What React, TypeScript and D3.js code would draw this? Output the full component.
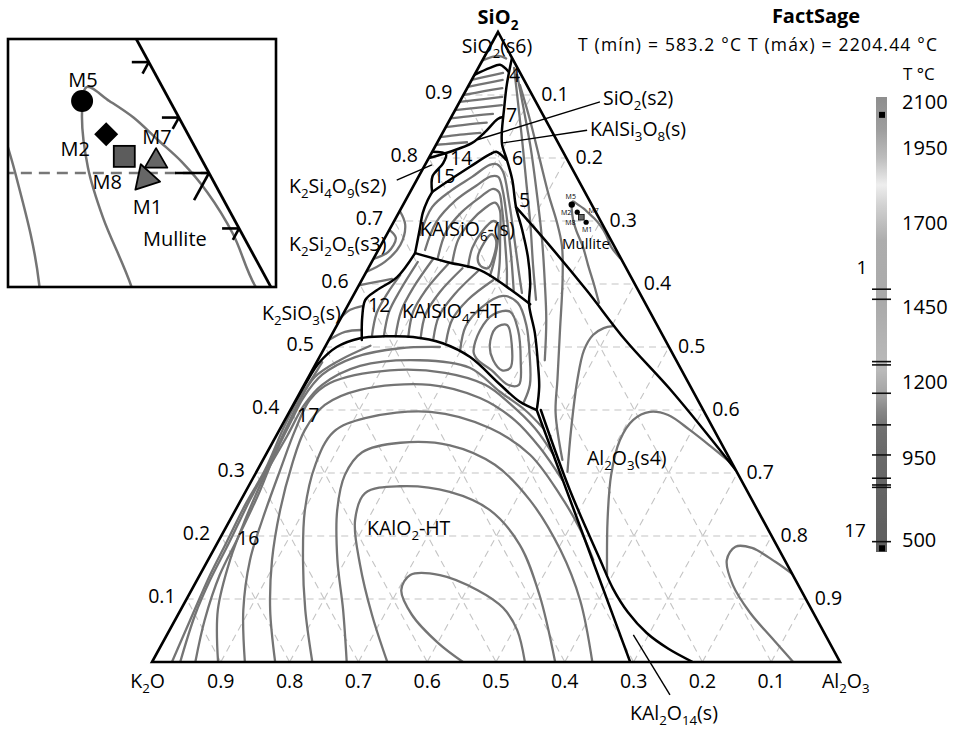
import React from "react";
import * as d3 from "d3";

// Composition point: [SiO2, Al2O3] mass fraction (K2O = 1 - SiO2 - Al2O3)
type TP = [number, number];

const FONT = "'Open Sans', 'Noto Sans', 'DejaVu Sans', sans-serif";

// ---------- axis ticks ----------
const fractionTicks = [0.1, 0.2, 0.3, 0.4, 0.5, 0.6, 0.7, 0.8, 0.9];

// ---------- phase field boundaries ----------
const bSilicaLiquidus: TP[] = [[0.959, 0.041], [0.916, 0.055], [0.876, 0.071], [0.84, 0.086], [0.821, 0.096], [0.797, 0.115], [0.765, 0.139], [0.722, 0.166], [0.686, 0.193], [0.643, 0.223], [0.602, 0.247], [0.567, 0.263], [0.522, 0.294], [0.468, 0.326], [0.437, 0.343], [0.403, 0.357]];
const bSilicaCap: TP[] = [[0.932, 0], [0.943, 0.017], [0.948, 0.029], [0.937, 0.047]];
const bSilicaLower: TP[] = [[0.865, 0.075], [0.862, 0.069], [0.841, 0.061], [0.824, 0.051], [0.81, 0.026], [0.8, 0]];
const bLeuciteTop: TP[] = [[0.746, 0.032], [0.765, 0.048], [0.786, 0.067], [0.806, 0.086], [0.81, 0.093], [0.797, 0.114]];
const bK2Si4O9: TP[] = [[0.81, 0], [0.806, 0.022], [0.792, 0.025], [0.771, 0.02], [0.746, 0.032]];
const bLeuciteLeft: TP[] = [[0.746, 0.032], [0.733, 0.032], [0.713, 0.035], [0.686, 0.044], [0.649, 0.056]];
const bLeuciteKalsilite: TP[] = [[0.649, 0.056], [0.635, 0.109], [0.622, 0.164], [0.595, 0.217], [0.568, 0.264]];
const bKalsiliteLeft: TP[] = [[0.649, 0.056], [0.611, 0.049], [0.59, 0.03], [0.575, 0.021], [0.548, 0.03], [0.511, 0.048]];
const bKAlO2Top: TP[] = [[0.4, 0], [0.44, 0.001], [0.475, 0.004], [0.5, 0.017], [0.514, 0.044], [0.517, 0.078], [0.516, 0.12], [0.506, 0.168], [0.484, 0.219], [0.44, 0.285], [0.413, 0.327], [0.4, 0.358]];
const bMullite: TP[] = [[0.722, 0.166], [0.67, 0.234], [0.59, 0.335], [0.511, 0.431], [0.427, 0.543], [0.305, 0.695]];
const bAluminaLeft: TP[] = [[0.4, 0.358], [0.202, 0.525], [0, 0.695]];
const bAluminaRight: TP[] = [[0.4, 0.364], [0.273, 0.47], [0.162, 0.57], [0.117, 0.611], [0.079, 0.652], [0.046, 0.696], [0.021, 0.74], [0, 0.786]];

const boundaries: TP[][] = [bSilicaLiquidus, bSilicaCap, bSilicaLower, bLeuciteTop, bK2Si4O9, bLeuciteLeft, bLeuciteKalsilite, bKalsiliteLeft, bKAlO2Top, bMullite, bAluminaLeft, bAluminaRight];

// ---------- liquidus isotherms ----------
const isoSilica: TP[][] = [
  [[0.955, 0], [0.962, 0.02], [0.958, 0.033]],
  [[0.924, 0], [0.93, 0.021], [0.935, 0.04]],
  [[0.913, 0], [0.919, 0.024], [0.924, 0.045]],
  [[0.9, 0], [0.906, 0.027], [0.911, 0.051]],
  [[0.889, 0], [0.893, 0.03], [0.897, 0.058]],
  [[0.876, 0], [0.88, 0.032], [0.884, 0.064]],
  [[0.863, 0], [0.867, 0.03], [0.87, 0.058]],
  [[0.849, 0], [0.853, 0.028], [0.856, 0.056]],
  [[0.833, 0], [0.837, 0.027], [0.84, 0.055]],
  [[0.821, 0], [0.823, 0.022], [0.825, 0.043]],
];
const isoMulliteSide: TP[][] = [
  [[0.943, 0.052], [0.892, 0.083], [0.829, 0.121], [0.765, 0.159], [0.694, 0.201], [0.63, 0.237], [0.575, 0.269]],
  [[0.932, 0.062], [0.876, 0.1], [0.813, 0.142], [0.741, 0.187], [0.67, 0.23], [0.606, 0.266], [0.543, 0.3], [0.479, 0.33]],
  [[0.916, 0.074], [0.86, 0.117], [0.797, 0.163], [0.741, 0.204], [0.7, 0.236], [0.66, 0.264], [0.606, 0.292], [0.527, 0.328], [0.448, 0.364], [0.395, 0.388], [0.321, 0.435]],
  [[0.57, 0.363], [0.598, 0.342], [0.63, 0.317], [0.659, 0.295], [0.684, 0.273], [0.702, 0.259], [0.722, 0.247], [0.731, 0.244], [0.726, 0.254], [0.72, 0.265], [0.712, 0.277], [0.704, 0.289], [0.693, 0.303], [0.678, 0.319], [0.659, 0.336], [0.641, 0.358]],
];
const isoLeucite: TP[][] = [
  [[0.678, 0.049], [0.722, 0.044], [0.749, 0.059], [0.77, 0.078], [0.789, 0.094], [0.79, 0.104], [0.778, 0.119], [0.733, 0.15], [0.678, 0.185], [0.622, 0.22], [0.586, 0.243]],
  [[0.654, 0.068], [0.698, 0.062], [0.733, 0.073], [0.756, 0.091], [0.771, 0.105], [0.77, 0.116], [0.749, 0.133], [0.702, 0.163], [0.646, 0.197], [0.59, 0.229]],
  [[0.641, 0.093], [0.683, 0.084], [0.714, 0.091], [0.738, 0.106], [0.751, 0.118], [0.746, 0.129], [0.721, 0.146], [0.67, 0.176], [0.622, 0.203], [0.598, 0.215]],
  [[0.633, 0.118], [0.67, 0.108], [0.698, 0.111], [0.721, 0.122], [0.729, 0.132], [0.717, 0.145], [0.678, 0.165], [0.635, 0.186], [0.606, 0.198]],
  [[0.627, 0.144], [0.657, 0.135], [0.683, 0.136], [0.7, 0.144], [0.694, 0.154], [0.662, 0.169], [0.63, 0.179], [0.613, 0.183]],
];
const isoKalsilite: TP[][] = [
  [[0.516, 0.06], [0.554, 0.048], [0.586, 0.048], [0.614, 0.052]],
  [[0.517, 0.077], [0.556, 0.065], [0.59, 0.064], [0.635, 0.067]],
  [[0.517, 0.094], [0.557, 0.082], [0.594, 0.081], [0.64, 0.087]],
  [[0.516, 0.113], [0.556, 0.1], [0.59, 0.101], [0.632, 0.113]],
  [[0.514, 0.132], [0.552, 0.12], [0.587, 0.123], [0.625, 0.137]],
  [[0.513, 0.151], [0.549, 0.141], [0.583, 0.146], [0.621, 0.162]],
  [[0.508, 0.172], [0.543, 0.163], [0.575, 0.17], [0.606, 0.191]],
  [[0.495, 0.199], [0.533, 0.188], [0.563, 0.196], [0.581, 0.218], [0.57, 0.245], [0.535, 0.275], [0.487, 0.304], [0.44, 0.328], [0.413, 0.333]],
];
const isoPotassiumSilicates: TP[][] = [
  [[0.598, 0], [0.603, 0.021], [0.608, 0.043]],
  [[0.548, 0], [0.559, 0.007], [0.565, 0.021]],
  [[0.511, 0], [0.524, 0.017], [0.527, 0.04]],
  [[0.716, 0], [0.694, 0.019], [0.662, 0.028], [0.635, 0.019], [0.619, 0]],
  [[0.686, 0], [0.673, 0.016], [0.651, 0.016], [0.64, 0]],
];
const isoKAlO2: TP[][] = [
  [[0, 0.452], [0.03, 0.401], [0.075, 0.34], [0.114, 0.305], [0.138, 0.306], [0.138, 0.349], [0.114, 0.416], [0.086, 0.467], [0.051, 0.505], [0, 0.542]],
  [[0, 0.342], [0.075, 0.282], [0.154, 0.225], [0.225, 0.182], [0.268, 0.175], [0.279, 0.22], [0.27, 0.297], [0.241, 0.37], [0.186, 0.441], [0.106, 0.51], [0, 0.586]],
  [[0, 0.283], [0.083, 0.236], [0.162, 0.188], [0.241, 0.148], [0.297, 0.131], [0.333, 0.138], [0.348, 0.186], [0.344, 0.26], [0.313, 0.341], [0.257, 0.42], [0.178, 0.504], [0.098, 0.573], [0, 0.64]],
  [[0, 0.233], [0.083, 0.181], [0.162, 0.138], [0.241, 0.101], [0.313, 0.08], [0.365, 0.08], [0.387, 0.115], [0.397, 0.205], [0.371, 0.305], [0.329, 0.384], [0.265, 0.46], [0.21, 0.517], [0.162, 0.56]],
  [[0, 0.179], [0.083, 0.13], [0.162, 0.093], [0.241, 0.065], [0.313, 0.046], [0.368, 0.037], [0.408, 0.046], [0.432, 0.085], [0.44, 0.183], [0.419, 0.266], [0.384, 0.334], [0.34, 0.393], [0.289, 0.451]],
  [[0, 0.135], [0.083, 0.091], [0.162, 0.061], [0.225, 0.047], [0.305, 0.033], [0.368, 0.023], [0.416, 0.02], [0.443, 0.036], [0.463, 0.113], [0.459, 0.195], [0.44, 0.263], [0.41, 0.314], [0.371, 0.37], [0.329, 0.418]],
  [[0, 0.096], [0.083, 0.054], [0.162, 0.032], [0.225, 0.022], [0.297, 0.015], [0.36, 0.016], [0.408, 0.016], [0.44, 0.026], [0.47, 0.066], [0.479, 0.148], [0.467, 0.227], [0.429, 0.29], [0.4, 0.341], [0.371, 0.382]],
  [[0, 0.063], [0.067, 0.043], [0.138, 0.029], [0.194, 0.026], [0.265, 0.021], [0.329, 0.013], [0.384, 0.01], [0.419, 0.009], [0.456, 0.018], [0.484, 0.052], [0.498, 0.11], [0.5, 0.167]],
  [[0, 0.041], [0.075, 0.025], [0.13, 0.019], [0.186, 0.017], [0.257, 0.013], [0.317, 0.012], [0.376, 0.008], [0.416, 0.006], [0.452, 0.009], [0.479, 0.032], [0.502, 0.065]],
  [[0, 0.029], [0.067, 0.022], [0.138, 0.015], [0.186, 0.013], [0.249, 0.01], [0.305, 0.011], [0.376, 0.004], [0.416, 0.003], [0.444, 0.006], [0.476, 0.008]],
];
const isoAlumina: TP[][] = [
  [[0.302, 0.452], [0.368, 0.424], [0.448, 0.393], [0.495, 0.379], [0.519, 0.38], [0.53, 0.39], [0.533, 0.402]],
  [[0.138, 0.592], [0.225, 0.549], [0.297, 0.518], [0.352, 0.503], [0.384, 0.506], [0.397, 0.524], [0.392, 0.553], [0.368, 0.597], [0.341, 0.642], [0.313, 0.687]],
  [[0.14, 0.86], [0.159, 0.826], [0.181, 0.781], [0.183, 0.756], [0.162, 0.754], [0.122, 0.783], [0.079, 0.829], [0.038, 0.882], [0, 0.932]],
];
const isoClosed: TP[][] = [
  [[0.641, 0.151], [0.665, 0.148], [0.679, 0.152], [0.67, 0.163], [0.644, 0.173], [0.625, 0.174], [0.629, 0.161]],
  [[0.492, 0.22], [0.527, 0.212], [0.552, 0.219], [0.556, 0.241], [0.527, 0.267], [0.479, 0.295], [0.44, 0.312], [0.44, 0.296], [0.463, 0.261], [0.479, 0.233]],
  [[0.503, 0.238], [0.53, 0.233], [0.535, 0.247], [0.503, 0.27], [0.467, 0.286], [0.463, 0.276], [0.479, 0.255]],
];
const isothermsOpen: TP[][] = [...isoSilica, ...isoMulliteSide, ...isoLeucite, ...isoKalsilite, ...isoPotassiumSilicates, ...isoKAlO2, ...isoAlumina];

// ---------- label leaders ----------
const leaders: TP[][] = [
  [[0.889, 0.204], [0.829, 0.056]],
  [[0.844, 0.208], [0.824, 0.096]],
  [[0.765, -0.029], [0.789, 0.01]],
  [[0.043, 0.678], [-0.052, 0.779]],
];

// ---------- samples ----------
const sampleNames = ["M5", "M2", "M8", "M7", "M1"];
const sampleSiO2 = [0.726, 0.714, 0.706, 0.705, 0.698];
const sampleAl2O3 = [0.245, 0.259, 0.269, 0.28, 0.28];

// ---------- inset axis ticks on the SiO2–Al2O3 edge ----------
const insetTicks = [0.74, 0.72, 0.7, 0.68];

// ---------- temperature legend ----------
const tempTicks = [2100, 1950, 1700, 1450, 1200, 950, 500];
const tempLevelMarks = [1503, 1473, 1268, 1257, 1163, 1059, 960, 839, 802, 789, 491];
const tempSquareMarks = [2058, 455];
const tempShades: [number, string][] = [
  [2115, "#8e8e8e"], [2009, "#9e9e9e"], [1917, "#bdbdbd"], [1827, "#eeeeee"], [1760, "#d2d2d2"],
  [1649, "#adadad"], [1471, "#aaaaaa"], [1240, "#bababa"], [1157, "#a2a2a2"], [1108, "#888888"],
  [1042, "#6f6f6f"], [884, "#676767"], [435, "#5e5e5e"],
];

const fmt = d3.format(".1f");

function Chem({ x, y, text, size = 19.5, anchor = "start", weight = "normal" }: { x: number; y: number; text: string; size?: number; anchor?: string; weight?: string }) {
  const parts = text.split(/(_\d+)/).filter((p) => p.length > 0);
  const sh = size * 0.28;
  return (
    <text x={x} y={y} fontSize={size} textAnchor={anchor as any} fontWeight={weight} fontFamily={FONT} fill="#000">
      {parts.map((p, i) => {
        if (p.startsWith("_")) {
          return (
            <tspan key={i} dy={sh} fontSize={size * 0.68}>
              {p.slice(1)}
            </tspan>
          );
        }
        const prevSub = i > 0 && parts[i - 1].startsWith("_");
        return (
          <tspan key={i} dy={prevSub ? -sh : 0}>
            {p}
          </tspan>
        );
      })}
    </text>
  );
}

export default function App() {
  // ternary projection
  const sY = d3.scaleLinear().domain([0, 1]).range([662, 32]);
  const alX = d3.scaleLinear().domain([0, 1]).range([152, 840]);
  const apexShift = 498 - 152;
  const proj = (p: TP): [number, number] => [alX(p[1]) + apexShift * p[0], sY(p[0])];

  // magnified inset around the samples
  const [X0, Y0] = proj([0.7, 0.3]);
  const zoomK = 4.4;
  const projInset = (p: TP): [number, number] => {
    const [x, y] = proj(p);
    return [209 + zoomK * (x - X0), 173 + zoomK * (y - Y0)];
  };

  const smooth = (pj: (p: TP) => [number, number], closed = false) =>
    d3
      .line<TP>()
      .x((d) => pj(d)[0])
      .y((d) => pj(d)[1])
      .curve(closed ? d3.curveCatmullRomClosed.alpha(0.5) : d3.curveCatmullRom.alpha(0.5));
  const straight = (pj: (p: TP) => [number, number]) =>
    d3
      .line<TP>()
      .x((d) => pj(d)[0])
      .y((d) => pj(d)[1]);

  const tri: TP[] = [[1, 0], [0, 0], [0, 1]];
  const triPts = tri.map((p) => proj(p).join(",")).join(" ");

  const gridSegs: TP[][] = fractionTicks.flatMap((v) => [
    [[v, 0], [v, 1 - v]] as TP[],
    [[0, v], [1 - v, v]] as TP[],
    [[0, 1 - v], [1 - v, 0]] as TP[],
  ]);

  const GRAY = "#747474";

  const drawField = (pj: (p: TP) => [number, number], key: string, wGray: number, wBlack: number) => (
    <g key={key}>
      {isothermsOpen.map((c, i) => (
        <path key={"o" + i} d={smooth(pj)(c) || ""} fill="none" stroke={GRAY} strokeWidth={wGray} strokeLinejoin="round" strokeLinecap="round" />
      ))}
      {isoClosed.map((c, i) => (
        <path key={"c" + i} d={smooth(pj, true)(c) || ""} fill="none" stroke={GRAY} strokeWidth={wGray} />
      ))}
      {boundaries.map((c, i) => (
        <path key={"b" + i} d={smooth(pj)(c) || ""} fill="none" stroke="#000" strokeWidth={wBlack} strokeLinejoin="round" strokeLinecap="round" />
      ))}
    </g>
  );

  // temperature legend scale (non-uniform spacing of the labelled temperatures)
  const tScale = d3
    .scaleLinear()
    .domain([435, 500, 950, 1200, 1450, 1700, 1950, 2100, 2115])
    .range([552, 540, 458, 382, 307, 223, 148, 102, 97]);
  const barTop = tScale(2115);
  const barBot = tScale(435);

  // sample markers
  const samples = sampleNames.map((n, i) => ({ name: n, p: [sampleSiO2[i], sampleAl2O3[i]] as TP }));
  const mainLabelOffset: Record<string, [number, number]> = { M5: [-1, -6], M2: [-11, 3], M7: [5, -5], M8: [-11, 8], M1: [1, 10] };
  const insetLabelOffset: Record<string, [number, number]> = { M5: [1, -14], M2: [-31, 22], M7: [1, -15], M8: [-17, 33], M1: [2, 35] };

  const triangle = (cx: number, cy: number, r: number, rot: number) => {
    const pts = [0, 120, 240].map((a) => {
      const t = ((a + rot) * Math.PI) / 180;
      return [cx + r * Math.sin(t), cy - r * Math.cos(t)].join(",");
    });
    return pts.join(" ");
  };

  // direction along a constant-Al2O3 line (towards lower SiO2), used for inset ticks
  const dA = proj([0.69, 0.3]);
  const dB = proj([0.7, 0.3]);
  const dl = Math.hypot(dA[0] - dB[0], dA[1] - dB[1]);
  const diag = [(dA[0] - dB[0]) / dl, (dA[1] - dB[1]) / dl];

  return (
    <svg width={957} height={729} style={{ position: "absolute", left: 0, top: 0, background: "#fff" }} fontFamily={FONT}>
      <defs>
        <clipPath id="triClip">
          <polygon points={triPts} />
        </clipPath>
        <clipPath id="insetClip">
          <rect x={8} y={39} width={268} height={248} />
        </clipPath>
        <linearGradient id="tempGrad" x1="0" y1="0" x2="0" y2="1">
          {tempShades.map(([t, c], i) => (
            <stop key={i} offset={(tScale(t) - barTop) / (barBot - barTop)} stopColor={c} />
          ))}
        </linearGradient>
        <filter id="soft" x="-50%" y="-5%" width="200%" height="110%">
          <feGaussianBlur stdDeviation="0.7" />
        </filter>
      </defs>
      <rect x={0} y={0} width={957} height={729} fill="#fff" />

      {/* grid */}
      <g clipPath="url(#triClip)">
        {gridSegs.map((s, i) => (
          <path key={i} d={straight(proj)(s) || ""} stroke="#c4c4c4" strokeWidth={1.1} strokeDasharray="7 5" fill="none" />
        ))}
      </g>

      {/* isotherms and phase boundaries */}
      <g clipPath="url(#triClip)">{drawField(proj, "main", 2.3, 2.5)}</g>
      <polygon points={triPts} fill="none" stroke="#000" strokeWidth={2.6} strokeLinejoin="miter" />

      {/* label leaders */}
      {leaders.map((l, i) => (
        <path key={i} d={straight(proj)(l) || ""} stroke="#000" strokeWidth={1.4} fill="none" />
      ))}

      {/* edge tick labels */}
      <g fontSize={19.5} fill="#000">
        {fractionTicks.map((v) => {
          const [x, y] = proj([v, 0]);
          return (
            <text key={"l" + v} x={x - 11} y={y + 4} textAnchor="end">
              {fmt(v)}
            </text>
          );
        })}
        {fractionTicks.map((v) => {
          const [x, y] = proj([v, 1 - v]);
          return (
            <text key={"r" + v} x={x + 9} y={y + 6}>
              {fmt(1 - v)}
            </text>
          );
        })}
        {fractionTicks.map((v) => {
          const [x] = proj([0, v]);
          return (
            <text key={"b" + v} x={x} y={688} textAnchor="middle">
              {fmt(1 - v)}
            </text>
          );
        })}
      </g>

      {/* corner labels */}
      <Chem x={498} y={24} text="SiO_2" size={20} anchor="middle" weight="bold" />
      <Chem x={497} y={53} text="SiO_2(s6)" size={19.5} anchor="middle" />
      <Chem x={165} y={688} text="K_2O" size={19.5} anchor="end" />
      <Chem x={822} y={688} text="Al_2O_3" size={19.5} />

      {/* phase field labels */}
      <Chem x={603} y={105} text="SiO_2(s2)" />
      <Chem x={590} y={136} text="KAlSi_3O_8(s)" />
      <Chem x={289} y={193} text="K_2Si_4O_9(s2)" />
      <Chem x={289} y={251} text="K_2Si_2O_5(s3)" />
      <Chem x={262} y={320} text="K_2SiO_3(s)" />
      <Chem x={420} y={236} text="KAlSiO_6-(s)" />
      <Chem x={402} y={318} text="KAlSiO_4-HT" />
      <Chem x={367} y={535} text="KAlO_2-HT" />
      <Chem x={587} y={465} text="Al_2O_3(s4)" />
      <Chem x={630} y={720} text="KAl_2O_14(s)" />
      <text x={562} y={249} fontSize={15}>Mullite</text>

      {/* region numbers */}
      <g fontSize={19.5}>
        <text x={509} y={82}>4</text>
        <text x={506} y={122}>7</text>
        <text x={512} y={165}>6</text>
        <text x={450} y={165}>14</text>
        <text x={433} y={183}>15</text>
        <text x={519} y={207}>5</text>
        <text x={368} y={312}>12</text>
        <text x={297} y={422}>17</text>
        <text x={237} y={545}>16</text>
      </g>

      {/* samples on the diagram */}
      {samples.map((s) => {
        const [x, y] = proj(s.p);
        const [ox, oy] = mainLabelOffset[s.name];
        let mark = null;
        if (s.name === "M5") mark = <circle cx={x} cy={y} r={3.2} fill="#000" />;
        else if (s.name === "M2" || s.name === "M1") mark = <circle cx={x} cy={y} r={2.6} fill="#000" />;
        else if (s.name === "M8") mark = <rect x={x - 2.8} y={y - 2.8} width={5.6} height={5.6} fill="#666" stroke="#000" strokeWidth={0.8} />;
        return (
          <g key={s.name}>
            {mark}
            <text x={x + ox} y={y + oy} fontSize={7} textAnchor="middle" fill="#000">
              {s.name}
            </text>
          </g>
        );
      })}

      {/* inset */}
      <rect x={8} y={39} width={268} height={248} fill="#fff" />
      <g clipPath="url(#insetClip)">
        <path d={straight(projInset)([[0.7, 0], [0.7, 0.3]]) || ""} stroke="#777" strokeWidth={2.4} strokeDasharray="11 7" fill="none" />
        {drawField(projInset, "inset", 2.5, 2.6)}
        <path d={straight(projInset)([[1, 0], [0, 1]]) || ""} stroke="#000" strokeWidth={2.8} fill="none" />
        {insetTicks.map((t) => {
          const [x, y] = projInset([t, 1 - t]);
          const major = Math.abs(t - 0.7) < 1e-9;
          const h = major ? 34 : 17;
          const g = major ? 31 : 13;
          return (
            <g key={t} stroke="#000" strokeWidth={2.6} fill="none">
              <line x1={x - h} y1={y} x2={x} y2={y} />
              <line x1={x} y1={y} x2={x + g * diag[0]} y2={y + g * diag[1]} />
            </g>
          );
        })}
        {samples.map((s) => {
          const [x, y] = projInset(s.p);
          const [ox, oy] = insetLabelOffset[s.name];
          let mark = null;
          if (s.name === "M5") mark = <circle cx={x} cy={y} r={11} fill="#000" />;
          else if (s.name === "M2") mark = <polygon points={`${x},${y - 12} ${x + 12},${y} ${x},${y + 12} ${x - 12},${y}`} fill="#000" />;
          else if (s.name === "M8") mark = <rect x={x - 10.5} y={y - 10.5} width={21} height={21} fill="#5c5c5c" stroke="#000" strokeWidth={1.8} />;
          else if (s.name === "M7") mark = <polygon points={triangle(x, y + 2, 13, 0)} fill="#666" stroke="#000" strokeWidth={1.8} strokeLinejoin="round" />;
          else mark = <polygon points={triangle(x, y, 15, -18)} fill="#666" stroke="#000" strokeWidth={1.8} strokeLinejoin="round" />;
          return (
            <g key={s.name}>
              {mark}
              <text x={x + ox} y={y + oy} fontSize={20} textAnchor="middle">
                {s.name}
              </text>
            </g>
          );
        })}
        <text x={143} y={246} fontSize={20}>Mullite</text>
      </g>
      <rect x={8} y={39} width={268} height={248} fill="none" stroke="#000" strokeWidth={2.6} />

      {/* header */}
      <text x={816} y={23} fontSize={20} fontWeight="bold" textAnchor="middle">FactSage</text>
      <text x={578} y={51} fontSize={17.5} textLength={359} lengthAdjust="spacing">
        T (mín) = 583.2 °C T (máx) = 2204.44 °C
      </text>

      {/* temperature legend */}
      <text x={903} y={80} fontSize={17}>T °C</text>
      <g filter="url(#soft)">
        <rect x={876} y={barTop} width={11} height={barBot - barTop} fill="url(#tempGrad)" />
        {tempLevelMarks.map((t) => (
          <line key={t} x1={872} x2={891} y1={tScale(t)} y2={tScale(t)} stroke="#111" strokeWidth={1.6} />
        ))}
        {tempSquareMarks.map((t) => (
          <rect key={t} x={879} y={tScale(t) - 3} width={6} height={6} fill="#000" />
        ))}
      </g>
      <g fontSize={20}>
        {tempTicks.map((t) => (
          <text key={t} x={902} y={tScale(t) + 7}>
            {t}
          </text>
        ))}
      </g>
      <text x={862} y={274} fontSize={19} textAnchor="middle">1</text>
      <text x={855} y={537} fontSize={19} textAnchor="middle">17</text>
    </svg>
  );
}
